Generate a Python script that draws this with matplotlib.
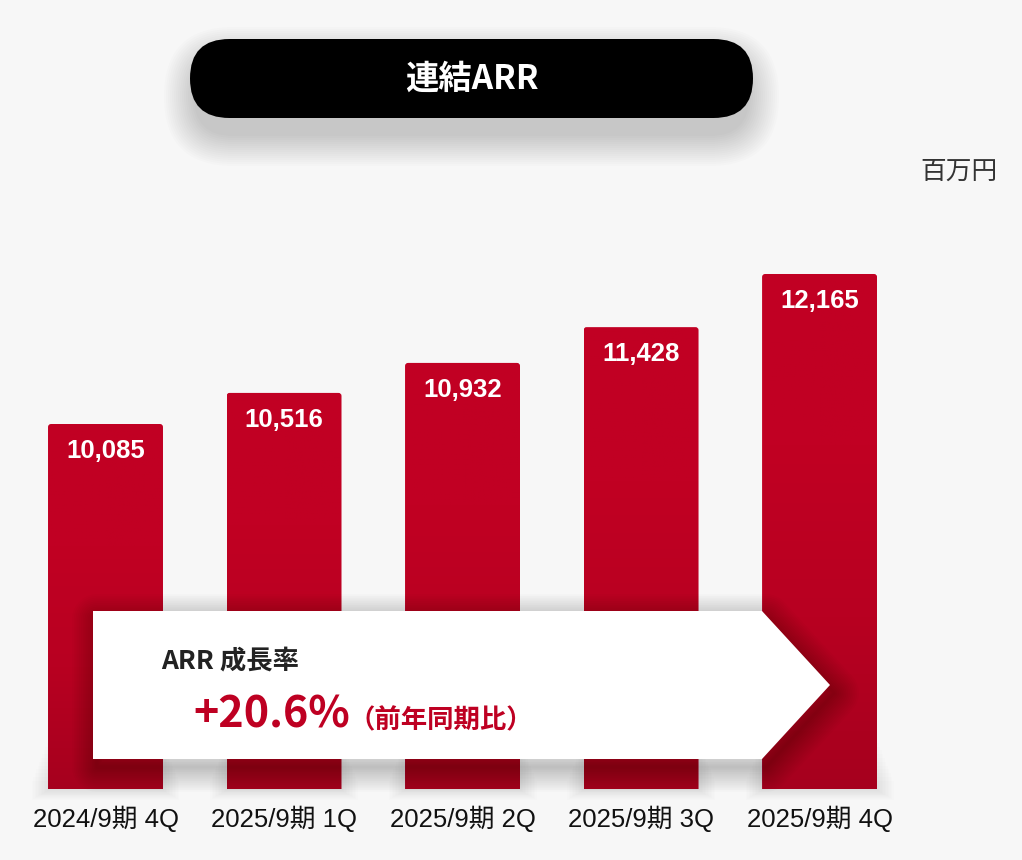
import numpy as np
import matplotlib.pyplot as plt
from matplotlib.patches import FancyBboxPatch, Polygon, Rectangle
from matplotlib.colors import LinearSegmentedColormap

# data
periods = ['2024/9期 4Q', '2025/9期 1Q', '2025/9期 2Q', '2025/9期 3Q', '2025/9期 4Q']
arr_values = [10085, 10516, 10932, 11428, 12165]
title = '連結ARR'
unit = '百万円'
growth_label = 'ARR 成長率'
growth_rate = '+20.6%'
growth_note = '（前年同期比）'

W, H = 1022, 860
BG = '#f7f7f7'
RED = '#be0022'
JP = ['Noto Sans CJK JP', 'DejaVu Sans']

plt.rcParams['font.family'] = ['Liberation Sans', 'Noto Sans CJK JP']
fig = plt.figure(figsize=(W / 100, H / 100), dpi=100, facecolor=BG)

# background layer in pixel coords (y up) for soft shadows
bg = fig.add_axes([0, 0, 1, 1], zorder=0)
bg.set_xlim(0, W)
bg.set_ylim(0, H)
bg.axis('off')

# bar axes: baseline at 789px from top, truncated value axis
ax = fig.add_axes([0, (H - 789) / H, 1, (789 - 200) / H], zorder=1)
ax.set_facecolor('none')
x = np.arange(len(periods))
ax.set_xlim(-0.591, 5.134)
ax.set_ylim(5024, 13191)
bars = ax.bar(x, arr_values, width=0.644, color=RED, alpha=0, zorder=2)

grad = LinearSegmentedColormap.from_list('g', ['#a6001e', '#b80021', '#c10023', '#c10023'])
y0 = ax.get_ylim()[0]
px_x = 1 / 178.5      # data units per pixel, x
px_y = 1 / 0.07212    # data units per pixel, y
for b in bars:
    bx, bw, bh = b.get_x(), b.get_width(), b.get_height()
    # rounded-top bar shape (bottom corners pushed below the axis)
    shape = FancyBboxPatch((bx, y0 - 200), bw, bh - y0 + 200,
                           boxstyle=f'round,pad=0,rounding_size={3 * px_x}',
                           mutation_aspect=px_y / px_x, transform=ax.transData)
    im = ax.imshow(np.linspace(0, 1, 256).reshape(-1, 1), cmap=grad, origin='lower',
                   extent=(bx, bx + bw, y0, bh), aspect='auto', zorder=3)
    im.set_clip_path(shape)
    # soft haze at the foot of the bar
    (px0, py0), (px1, py1) = ax.transData.transform([(bx, y0), (bx + bw, bh)])
    for k in range(12):
        g = 1.5 * k
        top = 50 - 3.8 * k
        bot = 1 + 0.9 * k
        bg.add_patch(Rectangle((px0 - g, py0 - bot), px1 - px0 + 2 * g, top + bot,
                               color='k', alpha=0.008, lw=0))

for b, v in zip(bars, arr_values):
    ax.annotate(f'{v:,}', (b.get_x() + b.get_width() / 2, b.get_height()),
                xytext=(0, -27 * 0.72), textcoords='offset points',
                ha='center', va='center', color='white', fontsize=18.5,
                fontweight='bold', zorder=5)

ax.set_xticks(x, periods)
ax.tick_params(axis='x', length=0, pad=12, labelsize=18.5, labelcolor='#111111')
ax.set_yticks([])
for s in ax.spines.values():
    s.set_visible(False)

# overlay layer in pixel coords (y down)
ov = fig.add_axes([0, 0, 1, 1], zorder=2)
ov.set_xlim(0, W)
ov.set_ylim(H, 0)
ov.axis('off')
ov.patch.set_alpha(0)

# title pill with blurred shadow
for k in range(16):
    g = k * 2.0
    ov.add_patch(FancyBboxPatch((190 - g + 4, 39 - g + 18), 563 + 2 * g - 8, 79 + 2 * g,
                                boxstyle=f'round,pad=0,rounding_size={39 + g}',
                                color='k', alpha=0.011, lw=0))
ov.add_patch(FancyBboxPatch((190, 39), 563, 79, boxstyle='round,pad=0,rounding_size=39.5',
                            color='black', lw=0))
ov.text(472, 79, title, ha='center', va='center', color='white', fontsize=24,
        fontweight='bold', family=JP)

ov.text(998, 172, unit, ha='right', va='center', color='#333333', fontsize=18.5, family=JP)

# growth arrow box with a soft drop shadow (stacked translucent strokes)
arrow_pts = [(93, 611), (762, 611), (830, 685), (762, 759), (93, 759)]
for k in range(14):
    ov.add_patch(Polygon([(px + 4, py + 8) for px, py in arrow_pts], closed=True,
                         fill=False, ec='k', lw=2 + k * 2.6, alpha=0.014,
                         joinstyle='round'))
ov.add_patch(Polygon(arrow_pts, closed=True, color='white', lw=0))
ov.text(161, 668, growth_label, ha='left', va='baseline', color='#222222', fontsize=19,
        fontweight='bold', family=JP)
ov.text(193, 728, growth_rate, ha='left', va='baseline', color=RED, fontsize=31,
        fontweight='bold', family=JP)
ov.text(348, 728, growth_note, ha='left', va='baseline', color=RED, fontsize=19,
        fontweight='bold', family=JP)

fig.savefig('out.png', dpi=100, facecolor=BG)
